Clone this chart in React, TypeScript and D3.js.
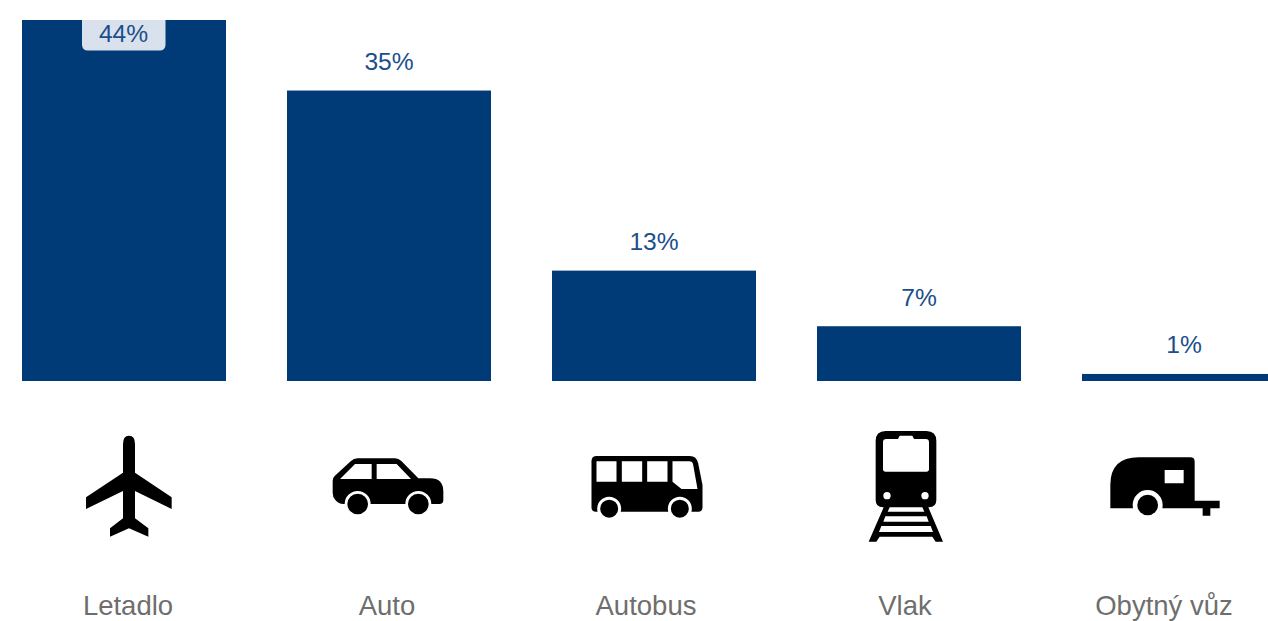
import React from "react";
import * as d3 from "d3";

const categories = ["Letadlo", "Auto", "Autobus", "Vlak", "Obytný vůz"];
const values = [43.5, 35, 13.3, 6.6, 0.85];
const valueLabels = ["44%", "35%", "13%", "7%", "1%"];

const W = 1268, H = 621;
const BAR = "#003B78", LABEL = "#1B4E8A", CAT = "#6E6E6E", FONT = "'Liberation Sans', Arial, sans-serif";

const circle = (cx: number, cy: number, r: number) =>
  `M${cx - r},${cy}a${r},${r} 0 1,0 ${2 * r},0a${r},${r} 0 1,0 ${-2 * r},0Z`;

type Icon = { cx: number; oy: number; black: string; white?: string; top?: string };
const rect = (x0: number, y0: number, x1: number, y1: number) => `M${x0},${y0}H${x1}V${y1}H${x0}Z`;

// Icon outlines are traced in 3x-zoomed pixels and scaled down by 1/3.
const icons: Icon[] = [
  {
    cx: 207, oy: 420,
    black: "M189,158V72Q189,47 207,47Q225,47 225,72V158L335,232V267L225,213V295L265,325V350L207,325L150,350V325L189,295V213L78,267V232Z",
  },
  {
    cx: 984, oy: 420,
    black: "M818,182Q818,174 824,168L872,124Q881,115 893,115H1005Q1016,115 1024,123L1075,175H1110Q1150,175 1150,215V240Q1150,252 1138,252H850Q836,252 826,240Q818,232 818,218Z",
    white:
      "M840,177L885,132H935V177ZM950,132H1010L1053,177H950Z" + circle(893, 252, 39) + circle(1075, 252, 39),
    top: circle(893, 252, 31) + circle(1075, 252, 31),
  },
  {
    cx: 231.5, oy: 420,
    black: "M65,124Q65,108 81,108H360Q380,108 385,130L398,195V262Q398,275 385,275H78Q65,275 65,262Z",
    white:
      rect(80, 124, 140, 185) + rect(156, 124, 217, 185) + rect(232, 124, 293, 185) +
      "M308,124H358Q368,124 370,134L383,207H335L308,185Z" + circle(118, 266, 36) + circle(330, 266, 36),
    top: circle(118, 266, 27) + circle(330, 266, 27),
  },
  {
    cx: 1009, oy: 420,
    black:
      "M948,33H1070Q1100,33 1100,63V240Q1100,262 1078,262H1076L1120,365H1098L1088,350H930L920,365H897L942,262H940Q918,262 918,240V63Q918,33 948,33Z",
    white:
      "M950,57H985L990,47H1028L1033,57H1068Q1078,57 1078,67V147Q1078,155 1070,155H948Q940,155 940,147V67Q940,57 950,57Z" +
      circle(952, 227, 11) + circle(1066, 227, 11) +
      "M960,262H1058L1064,275H954ZM947,289H1071L1077,305H941ZM935,318H1083L1090,336H928Z",
  },
  {
    cx: 314, oy: 330,
    black:
      "M150,535V465Q150,382 235,382H390Q403,382 403,395V512H478V535H450V557H427V535Z",
    white: rect(313, 420, 370, 460) + circle(262, 525, 45),
    top: circle(262, 525, 31),
  },
];

export default function App() {
  const x = d3.scaleBand<string>().domain(categories).range([22, 1286]).paddingInner(61 / 265).paddingOuter(0);
  const y = d3.scaleLinear().domain([0, 43.5]).range([381, 20]);
  const cat = d3.scalePoint<string>().domain(categories).range([128, 1164]);

  return (
    <svg width={W} height={H} viewBox={`0 0 ${W} ${H}`} style={{ position: "absolute", left: 0, top: 0, display: "block", background: "#fff" }} fontFamily={FONT}>
      {categories.map((c, i) => (
        <rect key={c} x={x(c)} y={y(values[i])} width={x.bandwidth()} height={y(0) - y(values[i])} fill={BAR} />
      ))}
      <path d="M82,20H165.5V44.5Q165.5,50.5 159.5,50.5H88Q82,50.5 82,44.5Z" fill="#D9E2EC" />
      {categories.map((c, i) => {
        const cx = x(c)! + x.bandwidth() / 2 - (i === 0 ? 0.5 : 0);
        const by = i === 0 ? 42 : y(values[i]) - 20.7;
        return (
          <text key={c} x={cx} y={by} textAnchor="middle" fontSize={24.6} fill={LABEL}>
            {valueLabels[i]}
          </text>
        );
      })}
      {categories.map((c, i) => {
        const ic = icons[i];
        return (
          <g key={c} transform={`translate(${cat(c)! + 1 - ic.cx / 3},${ic.oy}) scale(${1 / 3})`}>
            <path d={ic.black} fill="#000" />
            {ic.white && <path d={ic.white} fill="#fff" />}
            {ic.top && <path d={ic.top} fill="#000" />}
          </g>
        );
      })}
      {categories.map((c) => (
        <text key={c} x={cat(c)} y={615} textAnchor="middle" fontSize={27.5} fill={CAT}>
          {c}
        </text>
      ))}
    </svg>
  );
}
